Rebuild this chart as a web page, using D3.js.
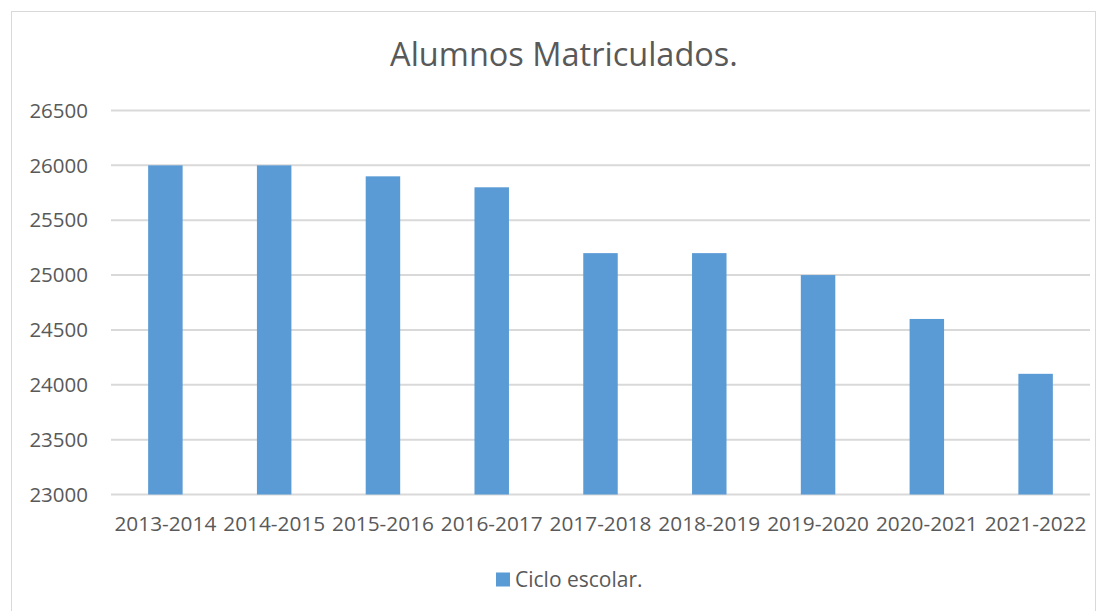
<!DOCTYPE html>
<html lang="es">
<head>
<meta charset="utf-8">
<title>Alumnos Matriculados.</title>
<style>
    body { margin: 0; background: #fff; }
    text { font-family: "Open Sans", sans-serif; fill: #595959; }
    .grid line { stroke: #d9d9d9; stroke-width: 2px; }
</style>
</head>
<body>
<svg width="1107" height="611"></svg>
<script src="https://d3js.org/d3.v7.min.js"></script>
<script>
    // ciclos escolares y alumnos
    const ciclos = ['2013-2014', '2014-2015', '2015-2016', '2016-2017', '2017-2018',
        '2018-2019', '2019-2020', '2020-2021', '2021-2022'];
    const alumnos = [26000, 26000, 25900, 25800, 25200, 25200, 25000, 24600, 24100];
    const yTicks = [23000, 23500, 24000, 24500, 25000, 25500, 26000, 26500];
    const serie = 'Ciclo escolar.';
    const titulo = 'Alumnos Matriculados.';

    var svg = d3.select('svg');
    var margin = { left: 111, right: 17, top: 110.5, bottom: 116.5 };
    var width = 1107, height = 611;

    // marco
    svg.append('rect')
        .attr('x', 11.5).attr('y', 11.5)
        .attr('width', 1084).attr('height', 620)
        .attr('fill', 'none').attr('stroke', '#d9d9d9').attr('stroke-width', 1);

    var x = d3.scaleBand()
        .domain(ciclos)
        .range([margin.left, width - margin.right])
        .paddingInner(0.683)
        .paddingOuter(0.683 / 2);

    var y = d3.scaleLinear()
        .domain([23000, 26500])
        .range([height - margin.bottom, margin.top]);

    svg.append('g').attr('class', 'grid')
        .selectAll('line')
        .data(yTicks)
        .enter().append('line')
        .attr('x1', margin.left).attr('x2', width - margin.right)
        .attr('y1', d => y(d)).attr('y2', d => y(d));

    svg.append('g')
        .selectAll('text')
        .data(yTicks)
        .enter().append('text')
        .attr('x', 88).attr('y', d => y(d))
        .attr('dy', '0.35em')
        .attr('text-anchor', 'end')
        .style('font-size', '20.5px')
        .text(d => d);

    svg.append('g')
        .selectAll('rect')
        .data(alumnos)
        .enter().append('rect')
        .attr('x', (d, i) => x(ciclos[i]))
        .attr('width', x.bandwidth())
        .attr('y', d => y(d))
        .attr('height', d => y(23000) - y(d))
        .attr('fill', '#5b9bd5');

    svg.append('g')
        .selectAll('text')
        .data(ciclos)
        .enter().append('text')
        .attr('x', d => x(d) + x.bandwidth() / 2)
        .attr('y', 531)
        .attr('text-anchor', 'middle')
        .style('font-size', '20.8px')
        .text(d => d);

    svg.append('text')
        .attr('x', 564).attr('y', 65.5)
        .attr('text-anchor', 'middle')
        .style('font-size', '32.5px')
        .text(titulo);

    // leyenda
    svg.append('rect')
        .attr('x', 496).attr('y', 572.5)
        .attr('width', 14).attr('height', 14)
        .attr('fill', '#5b9bd5');
    svg.append('text')
        .attr('x', 515).attr('y', 587)
        .style('font-size', '21px')
        .text(serie);
</script>
</body>
</html>
